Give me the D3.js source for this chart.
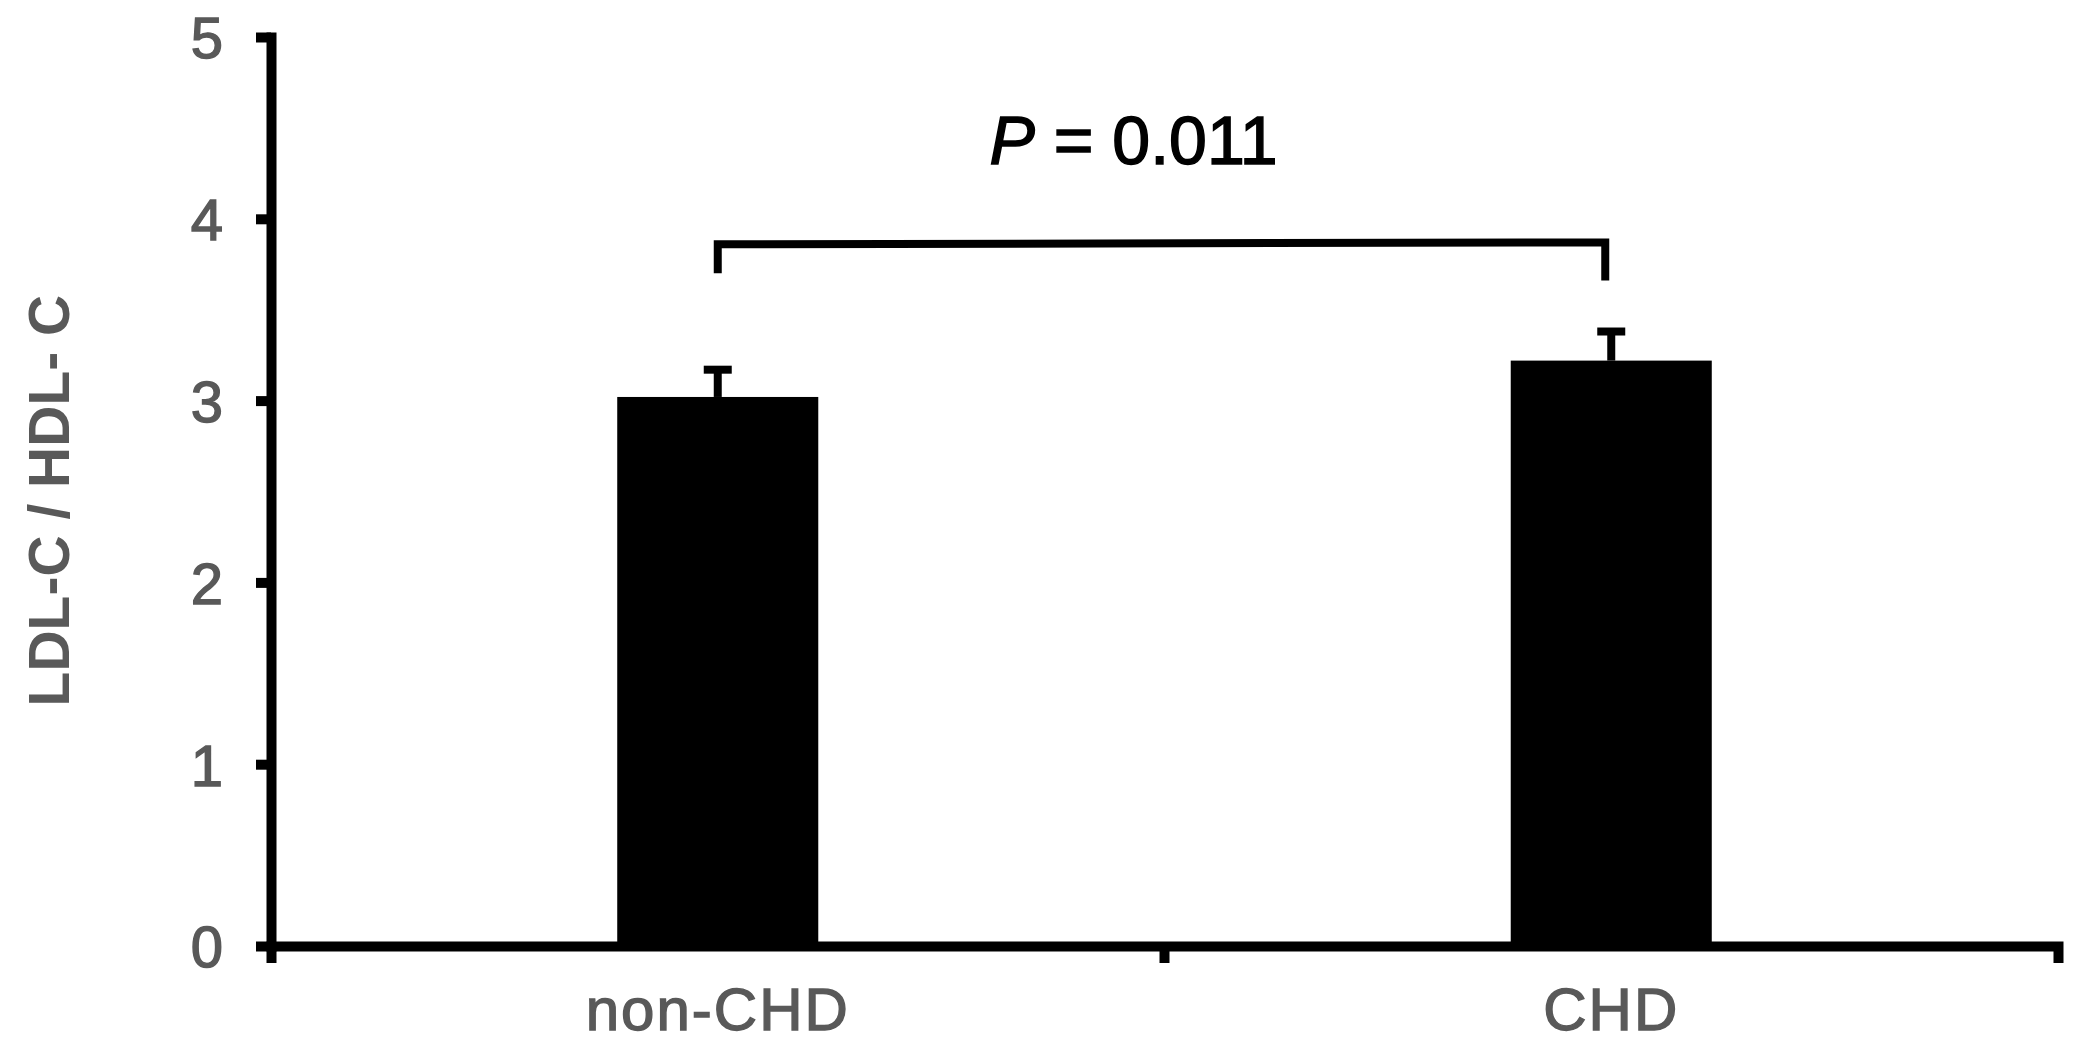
<!DOCTYPE html>
<html>
<head>
<meta charset="utf-8">
<script src="https://cdn.jsdelivr.net/npm/d3@7"></script>
<style>
  html, body { margin: 0; padding: 0; background: #fff; }
  svg { display: block; }
</style>
</head>
<body>
<svg id="chart"></svg>
<script>
// Data
const groups = ['non-CHD', 'CHD'];
const means = [3.02, 3.22];
const errors = [0.15, 0.16];
const yTicks = [0, 1, 2, 3, 4, 5];
const yLabel = 'LDL-C / HDL- C';
// significance bracket: bar level and leg ends (data units)
const bracketLevel = [3.86, 3.87];
const bracketLegEnds = [3.70, 3.66];
const pLabel = ['P', ' = 0.011'];

const width = 2082;
const height = 1052;
const margin = { top: 37, right: 24, bottom: 106, left: 271 };
const innerW = width - margin.left - margin.right;
const innerH = height - margin.top - margin.bottom;
const gray = '#595959';
const font = '"Liberation Sans", Arial, sans-serif';

const svg = d3.select('#chart')
  .attr('width', width)
  .attr('height', height)
  .attr('viewBox', `0 0 ${width} ${height}`);

const g = svg.append('g')
  .attr('transform', `translate(${margin.left},${margin.top})`);

const x = d3.scaleBand().domain(groups).range([0, innerW]).padding(0);
const y = d3.scaleLinear().domain([0, 5]).range([innerH, 0]);
const barW = x.step() * 0.225;
const cx = d => x(d) + x.bandwidth() / 2;

// Bars
g.selectAll('.bar')
  .data(groups)
  .join('rect')
  .attr('class', 'bar')
  .attr('x', d => cx(d) - barW / 2)
  .attr('y', (d, i) => y(means[i]))
  .attr('width', barW)
  .attr('height', (d, i) => y(0) - y(means[i]))
  .attr('fill', '#000');

// Error bars (upper only)
const eb = g.selectAll('.err')
  .data(groups)
  .join('g')
  .attr('class', 'err')
  .attr('stroke', '#000')
  .attr('stroke-width', 8);

eb.append('line')
  .attr('x1', d => cx(d)).attr('x2', d => cx(d))
  .attr('y1', (d, i) => y(means[i]))
  .attr('y2', (d, i) => y(means[i] + errors[i]));

eb.append('line')
  .attr('x1', d => cx(d) - 14).attr('x2', d => cx(d) + 14)
  .attr('y1', (d, i) => y(means[i] + errors[i]))
  .attr('y2', (d, i) => y(means[i] + errors[i]));

// Y axis
const yAxis = g.append('g')
  .call(d3.axisLeft(y).tickValues(yTicks).tickFormat(d3.format('d'))
    .tickSizeInner(15).tickSizeOuter(0).tickPadding(33));

yAxis.select('.domain').attr('stroke-width', 10).attr('stroke-linecap', 'square');
yAxis.selectAll('.tick line').attr('stroke-width', 10);
yAxis.selectAll('.tick text')
  .attr('font-family', font)
  .attr('font-size', 58)
  .attr('fill', gray)
  .attr('stroke', gray)
  .attr('stroke-width', 1.4)
  .attr('dy', '0.36em');

// X axis: ends and the boundary between groups carry the ticks
const xAxis = g.append('g')
  .attr('transform', `translate(0,${innerH})`)
  .call(d3.axisBottom(x).tickSizeInner(0).tickSizeOuter(17).tickPadding(0));

xAxis.select('.domain').attr('stroke-width', 10);
xAxis.selectAll('.tick text')
  .attr('font-family', font)
  .attr('font-size', 60)
  .attr('letter-spacing', 2)
  .attr('fill', gray)
  .attr('stroke', gray)
  .attr('stroke-width', 1.4)
  .attr('dy', 0)
  .attr('y', 84);

xAxis.append('line')
  .attr('x1', x.step()).attr('x2', x.step())
  .attr('y1', 0).attr('y2', 17)
  .attr('stroke', '#000')
  .attr('stroke-width', 10);

// Y axis title
svg.append('text')
  .attr('transform', `translate(69,${margin.top + y(2.45)}) rotate(-90)`)
  .attr('text-anchor', 'middle')
  .attr('font-family', font)
  .attr('font-weight', 'bold')
  .attr('font-size', 57)
  .attr('fill', gray)
  .text(yLabel);

// Significance bracket
const x0 = cx(groups[0]);
const x1 = cx(groups[1]) - 6;
g.append('path')
  .attr('d', `M${x0},${y(bracketLegEnds[0])}V${y(bracketLevel[0])}L${x1},${y(bracketLevel[1])}V${y(bracketLegEnds[1])}`)
  .attr('fill', 'none')
  .attr('stroke', '#000')
  .attr('stroke-width', 8);

const pText = g.append('text')
  .attr('x', (x0 + x1) / 2 - 28)
  .attr('y', y(4.3))
  .attr('text-anchor', 'middle')
  .attr('font-family', font)
  .attr('font-size', 68)
  .attr('fill', '#000')
  .attr('stroke', '#000')
  .attr('stroke-width', 1.5);

pText.append('tspan').attr('font-style', 'italic').text(pLabel[0]);
pText.append('tspan').text(pLabel[1]);
</script>
</body>
</html>
